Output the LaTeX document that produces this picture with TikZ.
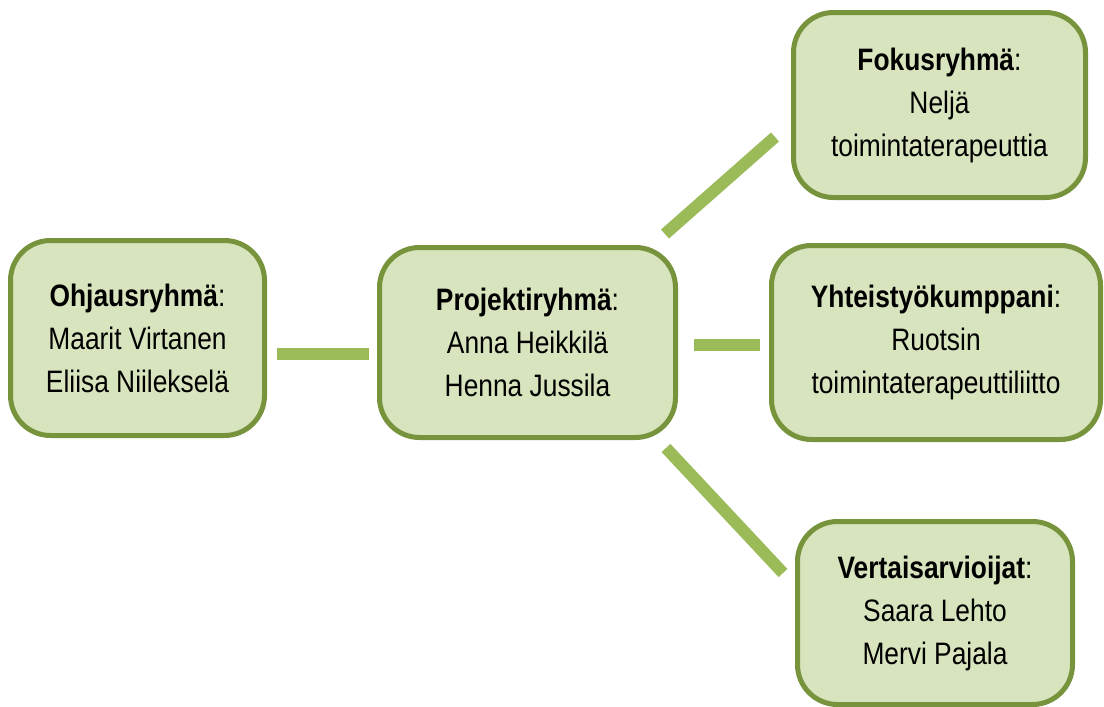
\documentclass[tikz,border=0pt]{standalone}
\usepackage{fontspec}
\setmainfont[FakeStretch=0.85]{Liberation Sans}
\definecolor{boxborder}{HTML}{77933C}
\definecolor{boxfill}{HTML}{D7E4BD}
\definecolor{linkgreen}{HTML}{9BBB59}
\begin{document}
\begin{tikzpicture}[x=0.75pt,y=-0.75pt,
  box/.style={draw=boxborder, line width=3.75pt, fill=boxfill, rounded corners=30pt,
    align=center, font=\fontsize{23.25}{32.25}\selectfont, inner sep=0pt},
  link/.style={draw=linkgreen, line width=9pt}]
\useasboundingbox (0,0) rectangle (1104,707);

\node[box, minimum width=190.5pt, minimum height=146.25pt] (ohj) at (137.5,338)
  {\textbf{Ohjausryhmä}:\\Maarit Virtanen\\Eliisa Niilekselä};
\node[box, minimum width=222pt, minimum height=142.5pt] (proj) at (527.5,342.5)
  {\textbf{Projektiryhmä}:\\Anna Heikkilä\\Henna Jussila};
\node[box, minimum width=219pt, minimum height=138.75pt] (fok) at (939.5,105)
  {\textbf{Fokusryhmä}:\\Neljä\\toimintaterapeuttia};
\node[box, minimum width=246.75pt, minimum height=145.5pt] (yht) at (936,342.5)
  {\textbf{Yhteistyökumppani}:\\Ruotsin\\toimintaterapeuttiliitto};
\node[box, minimum width=206.25pt, minimum height=137.25pt] (ver) at (935,613)
  {\textbf{Vertaisarvioijat}:\\Saara Lehto\\Mervi Pajala};

\coordinate (l1a) at (277,354);
\coordinate (l1b) at (369,354);
\coordinate (l2a) at (665,234);
\coordinate (l2b) at (775,137);
\coordinate (l3a) at (694,345);
\coordinate (l3b) at (760,345);
\coordinate (l4a) at (666,448);
\coordinate (l4b) at (783,573);

\draw[link] (l1a) -- (l1b);
\draw[link] (l2a) -- (l2b);
\draw[link] (l3a) -- (l3b);
\draw[link] (l4a) -- (l4b);
\end{tikzpicture}
\end{document}
